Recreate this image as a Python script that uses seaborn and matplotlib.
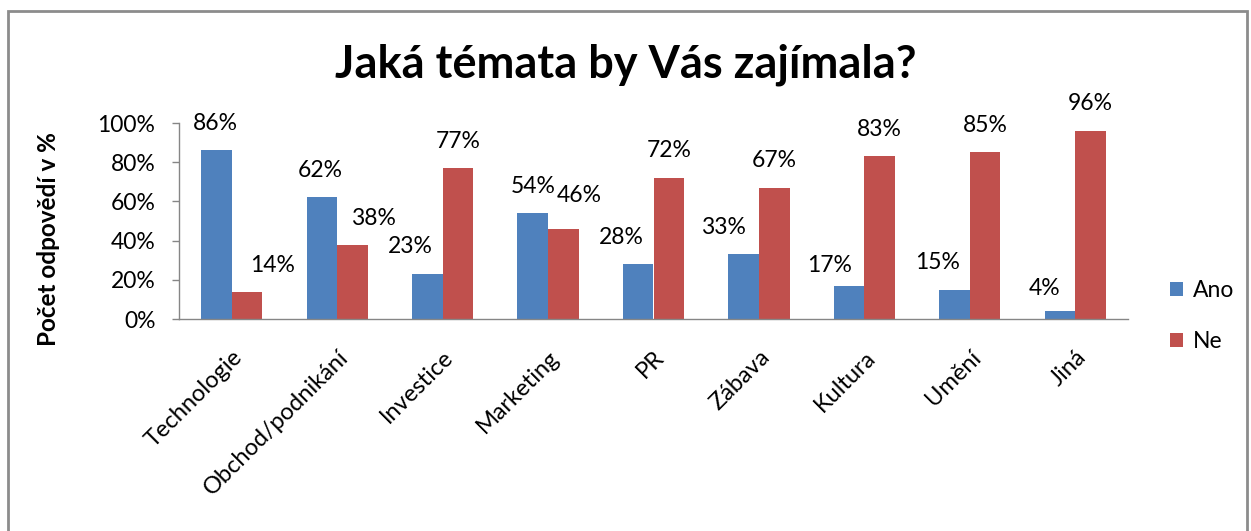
import numpy as np
import pandas as pd
import matplotlib
matplotlib.use('Agg')
import matplotlib.pyplot as plt
import seaborn as sns
from matplotlib.patches import Rectangle

sns.set_style('white')
plt.rcParams['font.family'] = ['Lato', 'DejaVu Sans']
plt.rcParams['text.color'] = 'black'
plt.rcParams['axes.labelcolor'] = 'black'
plt.rcParams['xtick.color'] = 'black'
plt.rcParams['ytick.color'] = 'black'

topics = ['Technologie', 'Obchod/podnikání', 'Investice', 'Marketing', 'PR',
          'Zábava', 'Kultura', 'Umění', 'Jiná']
ano = [86, 62, 23, 54, 28, 33, 17, 15, 4]
ne = [14, 38, 77, 46, 72, 67, 83, 85, 96]

# manual nudges of the value labels (pixels), as in the original chart
shift_ano = [(-1, 0), (-2, 0), (-17, 0), (0, 0), (-17, 0), (-20, 0), (-20, 7), (-17, 0), (-15, 4)]
shift_ne = [(26, 1), (21, 1), (0, 0), (16, -6), (0, 0), (0, 0), (0, 0), (0, 0), (0, 0)]

df = pd.DataFrame({'Téma': topics * 2,
                   'Odpověď': ['Ano'] * len(topics) + ['Ne'] * len(topics),
                   'Podíl': ano + ne})

fig = plt.figure(figsize=(12.51, 5.31), dpi=100)
ax = fig.add_axes([179 / 1251, 1 - 319 / 531, 949 / 1251, 196 / 531])

sns.barplot(data=df, x='Téma', y='Podíl', hue='Odpověď', order=topics,
            palette={'Ano': '#4F81BD', 'Ne': '#C0504D'}, width=0.58,
            saturation=1, linewidth=0, ax=ax)

for cont, shifts in zip(ax.containers, [shift_ano, shift_ne]):
    for bar, (dx, dy) in zip(cont, shifts):
        h = bar.get_height()
        ax.annotate(f'{h:.0f}%', (bar.get_x() + bar.get_width() / 2, h),
                    xytext=(dx, 27 - dy), textcoords='offset pixels',
                    ha='center', va='center', fontsize=16.5)

ax.set_ylim(0, 100)
ax.set_xlim(-0.5, len(topics) - 0.5)
ax.set_yticks(range(0, 101, 20))
ax.set_yticklabels([f'{v}%' for v in range(0, 101, 20)], fontsize=16.5)
ax.tick_params(axis='y', length=5, width=1, color='#868686', pad=12, left=True)
ax.tick_params(axis='x', length=0, pad=20)
ax.set_xticks(range(len(topics)))
ax.set_xticklabels(topics, rotation=45, ha='right', rotation_mode='anchor', fontsize=17)
ax.set_xlabel('')
ax.set_ylabel('Počet odpovědí v %', fontsize=17.5, fontweight='bold')
ax.yaxis.set_label_coords(-0.125, 0.41)

for s in ['top', 'right']:
    ax.spines[s].set_visible(False)
for s in ['left', 'bottom']:
    ax.spines[s].set_color('#868686')
    ax.spines[s].set_linewidth(1)

handles, labels = ax.get_legend_handles_labels()
ax.get_legend().remove()
fig.legend(handles, labels, loc='center left', bbox_to_anchor=(1149 / 1251, 1 - 316 / 531),
           frameon=False, fontsize=16.5, handlelength=0.6, handleheight=0.6,
           labelspacing=1.3, handletextpad=0.4)

fig.text(0.5, 0.8776, 'Jaká témata by Vás zajímala?', ha='center', va='center',
         fontsize=32.5, fontweight='bold')

fig.patches.append(Rectangle((8 / 1251, -0.1), 1239 / 1251, 1.1 - 11 / 531,
                             transform=fig.transFigure, fill=False,
                             edgecolor='#8c8c8c', linewidth=2))

fig.savefig('out.png', dpi=100)
